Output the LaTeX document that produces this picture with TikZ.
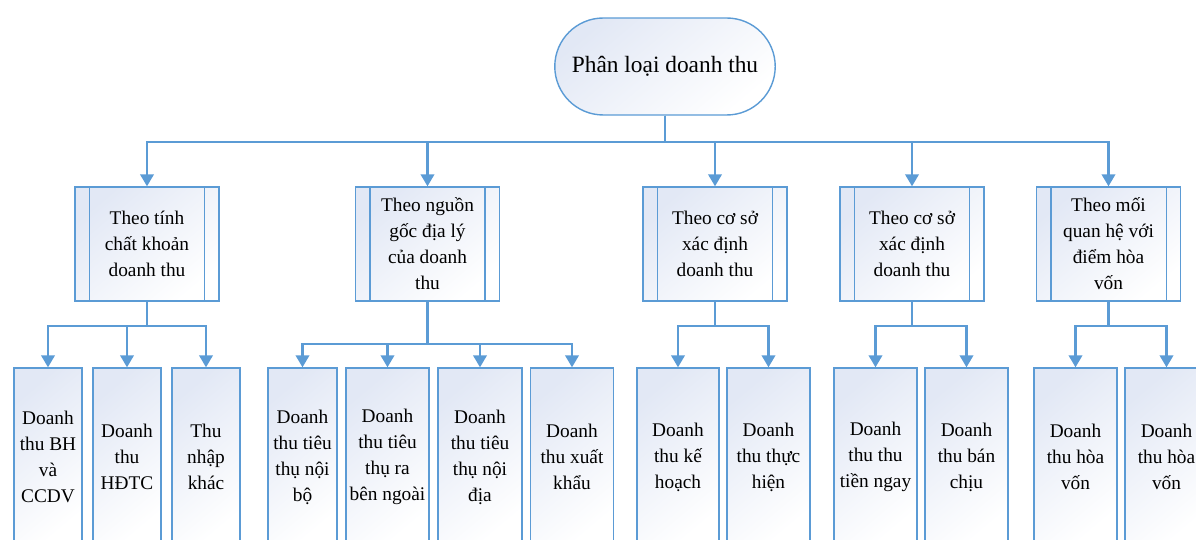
\documentclass[tikz,border=0pt]{standalone}
\usepackage{fontspec}
\setmainfont{Liberation Serif}
\usetikzlibrary{arrows.meta,positioning,shapes.misc}
\definecolor{lineblue}{RGB}{91,155,213}
\definecolor{boxfill}{RGB}{226,232,245}

\begin{document}
\begin{tikzpicture}[x=0.02cm, y=-0.02cm,
  font=\fontsize{11}{14.8}\selectfont,
  box/.style={draw=lineblue, line width=0.8pt, top color=boxfill, bottom color=white, shading angle=40, align=center, inner sep=1pt},
  rootbox/.style={box, rounded rectangle, minimum width=4.48cm, minimum height=1.94cm, font=\fontsize{13.3}{16}\selectfont},
  catbox/.style={box, minimum width=2.88cm, minimum height=2.28cm},
  leafbox/.style={box, minimum height=3.56cm},
  conn/.style={draw=lineblue, line width=1.3pt},
  arr/.style={conn, -{Triangle[width=0.27cm,length=0.24cm]}}]
\useasboundingbox (0,0) rectangle (1196,540);

% root
\node[rootbox] (root) at (665,66.5) {Phân loại doanh thu};

% criteria
\node[catbox] (g1) at (147,244) {Theo tính\\chất khoản\\doanh thu};
\node[catbox] (g2) at (427.5,244) {Theo nguồn\\gốc địa lý\\của doanh\\thu};
\node[catbox] (g3) at (715,244) {Theo cơ sở\\xác định\\doanh thu};
\node[catbox] (g4) at (912,244) {Theo cơ sở\\xác định\\doanh thu};
\node[catbox] (g5) at (1108.5,244) {Theo mối\\quan hệ với\\điểm hòa\\vốn};
\foreach \n in {g1,g2,g3,g4,g5}
  \draw[lineblue, line width=0.8pt]
    ([xshift=0.3cm]\n.north west) -- ([xshift=0.3cm]\n.south west)
    ([xshift=-0.3cm]\n.north east) -- ([xshift=-0.3cm]\n.south east);

% kinds of revenue
\node[leafbox, minimum width=1.36cm] (a1) at (48,457) {Doanh\\thu BH\\và\\CCDV};
\node[leafbox, minimum width=1.36cm] (a2) at (127,457) {Doanh\\thu\\HĐTC};
\node[leafbox, minimum width=1.36cm] (a3) at (206,457) {Thu\\nhập\\khác};
\node[leafbox, minimum width=1.38cm] (b1) at (302.5,457) {Doanh\\thu tiêu\\thụ nội\\bộ};
\node[leafbox, minimum width=1.66cm] (b2) at (387.5,457) {Doanh\\thu tiêu\\thụ ra\\bên ngoài};
\node[leafbox, minimum width=1.68cm] (b3) at (480,457) {Doanh\\thu tiêu\\thụ nội\\địa};
\node[leafbox, minimum width=1.66cm] (b4) at (572,457) {Doanh\\thu xuất\\khẩu};
\node[leafbox, minimum width=1.64cm] (c1) at (678,457) {Doanh\\thu kế\\hoạch};
\node[leafbox, minimum width=1.66cm] (c2) at (768.5,457) {Doanh\\thu thực\\hiện};
\node[leafbox, minimum width=1.66cm] (d1) at (875.5,457) {Doanh\\thu thu\\tiền ngay};
\node[leafbox, minimum width=1.66cm] (d2) at (966.5,457) {Doanh\\thu bán\\chịu};
\node[leafbox, minimum width=1.66cm] (e1) at (1075.5,457) {Doanh\\thu hòa\\vốn};
\node[leafbox, minimum width=1.66cm] (e2) at (1166.5,457) {Doanh\\thu hòa\\vốn};

% connectors
\foreach \n in {g1,g2,g3,g4,g5}
  \draw[arr] (root.south) -- ++(0,26) -| (\n.north);
\foreach \n in {a1,a2,a3}
  \draw[arr] (g1.south) -- ++(0,24) -| (\n.north);
\foreach \n in {b1,b2,b3,b4}
  \draw[arr] (g2.south) -- ++(0,42) -| (\n.north);
\foreach \n in {c1,c2}
  \draw[arr] (g3.south) -- ++(0,24) -| (\n.north);
\foreach \n in {d1,d2}
  \draw[arr] (g4.south) -- ++(0,24) -| (\n.north);
\foreach \n in {e1,e2}
  \draw[arr] (g5.south) -- ++(0,24) -| (\n.north);
\end{tikzpicture}
\end{document}
